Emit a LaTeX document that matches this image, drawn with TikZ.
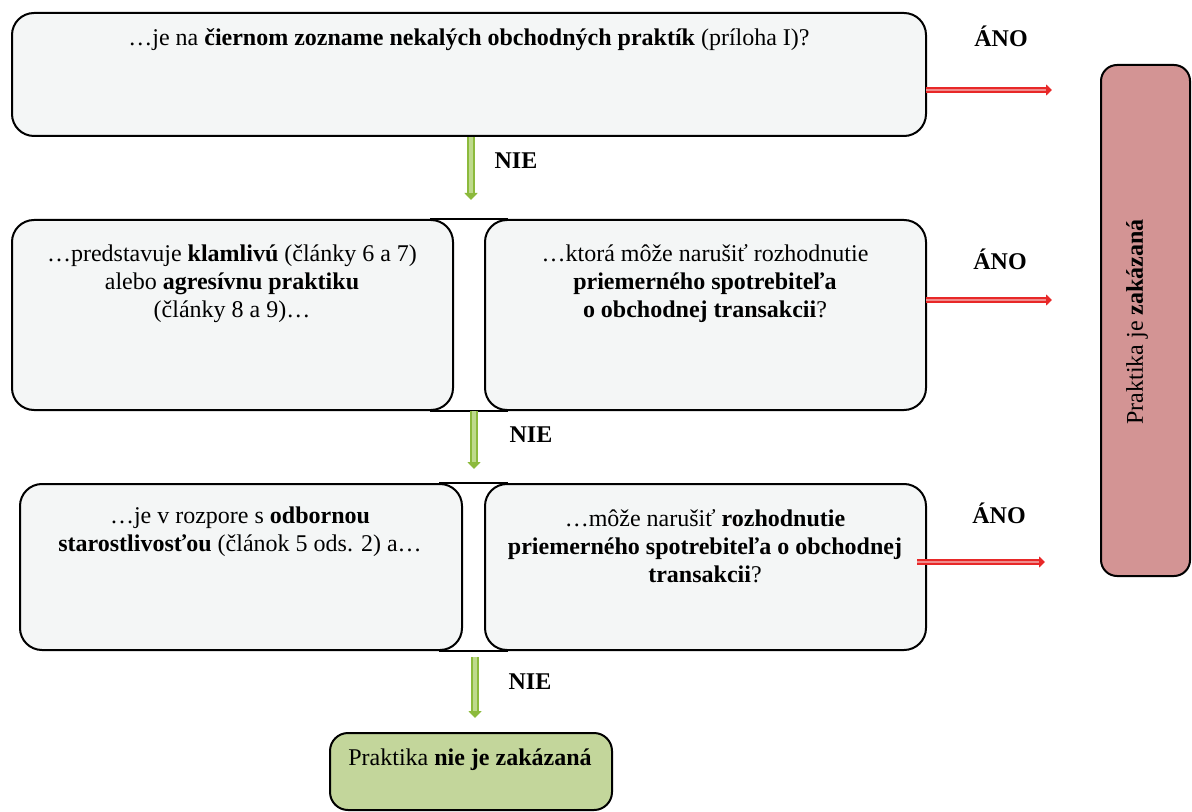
\documentclass[tikz,border=0pt]{standalone}
\usepackage{fontspec}
\setmainfont{Liberation Serif}
\usetikzlibrary{arrows.meta}
\definecolor{boxfill}{RGB}{244,246,246}
\definecolor{redfill}{RGB}{211,148,148}
\definecolor{greenfill}{RGB}{195,214,155}
\definecolor{arrowred}{RGB}{232,40,40}
\definecolor{arrowredin}{RGB}{240,140,140}
\definecolor{arrowgreen}{RGB}{140,186,60}
\definecolor{arrowgreenin}{RGB}{190,218,140}
\tikzset{
  qbox/.style={draw=black, line width=1pt, rounded corners=11pt, fill=boxfill, inner sep=0pt},
  txt/.style={align=center, font=\fontsize{12pt}{14pt}\selectfont, inner sep=0pt, anchor=center},
  lbl/.style={font=\fontsize{12pt}{14pt}\selectfont\bfseries, inner sep=0pt},
  redarrow/.style={draw=arrowred, line width=2.6pt, -{Triangle[width=5.5pt,length=3pt]}},
  redarrowin/.style={draw=arrowredin, line width=1.1pt, shorten >=3pt},
  greenarrow/.style={draw=arrowgreen, line width=3.6pt, -{Triangle[width=6.5pt,length=3.5pt]}},
  greenarrowin/.style={draw=arrowgreenin, line width=1.8pt, shorten >=3.5pt},
  bridge/.style={draw=black, line width=1pt}
}
\begin{document}
\begin{tikzpicture}[x=0.5pt,y=-0.5pt]
\useasboundingbox (0,0) rectangle (1192,812);
% boxes
\node[qbox, minimum width=457pt, minimum height=61.5pt] (b1) at (469,74.5) {};
\node[qbox, minimum width=220.5pt, minimum height=95pt] (b2l) at (232.5,315) {};
\node[qbox, minimum width=220.5pt, minimum height=95pt] (b2r) at (705.5,315) {};
\node[qbox, minimum width=221pt, minimum height=83pt] (b3l) at (241,567) {};
\node[qbox, minimum width=220.5pt, minimum height=83pt] (b3r) at (705.5,567) {};
\node[qbox, fill=redfill, rounded corners=8pt, minimum width=44.5pt, minimum height=255.5pt] (rb) at (1145.5,320.5) {};
\node[qbox, fill=greenfill, rounded corners=9pt, minimum width=141pt, minimum height=38.5pt] (gb) at (471,771.5) {};
% bridges between paired boxes
\draw[bridge] ([xshift=-12pt]b2l.north east) -- ([xshift=12pt]b2r.north west);
\draw[bridge] ([xshift=-12pt]b2l.south east) -- ([xshift=12pt]b2r.south west);
\draw[bridge] ([xshift=-12pt]b3l.north east) -- ([xshift=12pt]b3r.north west);
\draw[bridge] ([xshift=-12pt]b3l.south east) -- ([xshift=12pt]b3r.south west);
% texts
\node[txt] (t1) at (469,40) {…je na \textbf{čiernom zozname nekalých obchodných praktík} (príloha I)?};
\node[txt] (t2l) at (232,284) {…predstavuje \textbf{klamlivú} (články 6 a 7)\\alebo \textbf{agresívnu praktiku}\\(články 8 a 9)…};
\node[txt] (t2r) at (705,284) {…ktorá môže narušiť rozhodnutie\\\textbf{priemerného spotrebiteľa}\\\textbf{o obchodnej transakcii}?};
\node[txt] (t3l) at (240,532) {…je v rozpore s \textbf{odbornou}\\\textbf{starostlivosťou} (článok 5 ods. 2) a…};
\node[txt] (t3r) at (705,546) {…môže narušiť \textbf{rozhodnutie}\\\textbf{priemerného spotrebiteľa o obchodnej}\\\textbf{transakcii}?};
\node[txt, rotate=90] (trb) at (1137,322) {Praktika je \textbf{zakázaná}};
\node[txt] (tgb) at (470,760) {Praktika \textbf{nie je zakázaná}};
% labels
\node[lbl] (ano1) at (1001,36) {ÁNO};
\node[lbl] (ano2) at (1000,259) {ÁNO};
\node[lbl] (ano3) at (999,513) {ÁNO};
\node[lbl] (nie1) at (516,161) {NIE};
\node[lbl] (nie2) at (531,435) {NIE};
\node[lbl] (nie3) at (530,682) {NIE};
% arrow coordinates
\coordinate (r1s) at (926,90);  \coordinate (r1e) at (1052,90);
\coordinate (r2s) at (926,300); \coordinate (r2e) at (1052,300);
\coordinate (r3s) at (917,562); \coordinate (r3e) at (1045,562);
\coordinate (g1s) at (471,137); \coordinate (g1e) at (471,200);
\coordinate (g2s) at (474,411); \coordinate (g2e) at (474,469);
\coordinate (g3s) at (475,657); \coordinate (g3e) at (475,718);
% red arrows
\foreach \a in {1,2,3}{
  \draw[redarrow] (r\a s) -- (r\a e);
  \draw[redarrowin] (r\a s) -- (r\a e);
}
% green arrows
\foreach \a in {1,2,3}{
  \draw[greenarrow] (g\a s) -- (g\a e);
  \draw[greenarrowin] (g\a s) -- (g\a e);
}
\end{tikzpicture}
\end{document}
